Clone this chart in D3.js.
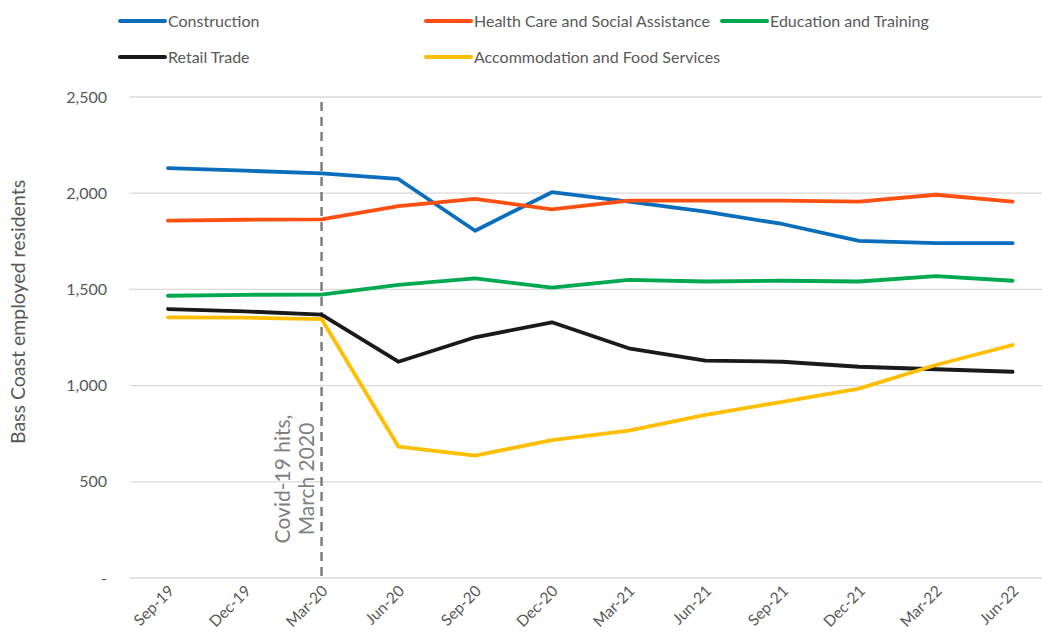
<!DOCTYPE html>
<html>
<head>
<meta charset="utf-8">
<script src="https://cdn.jsdelivr.net/npm/d3@7"></script>
<style>
  html, body { margin: 0; padding: 0; background: #fff; overflow: hidden; }
  svg { display: block; font-family: Lato, "Open Sans", sans-serif; }
</style>
</head>
<body>
<svg id="chart" width="1042" height="644"></svg>
<script>
// Quarterly periods
const quarters = ["Sep-19","Dec-19","Mar-20","Jun-20","Sep-20","Dec-20","Mar-21","Jun-21","Sep-21","Dec-21","Mar-22","Jun-22"];

// Employed residents by industry
const construction  = [2130, 2117, 2103, 2074, 1805, 2005, 1956, 1904, 1840, 1752, 1740, 1740];
const healthCare    = [1857, 1862, 1864, 1933, 1970, 1916, 1961, 1961, 1961, 1956, 1992, 1956];
const education     = [1467, 1472, 1473, 1523, 1557, 1509, 1549, 1541, 1545, 1541, 1569, 1545];
const retail        = [1398, 1386, 1369, 1124, 1251, 1329, 1194, 1130, 1124, 1098, 1085, 1072];
const accommodation = [1355, 1353, 1346, 683, 636, 717, 766, 848, 916, 984, 1107, 1211];

const seriesNames  = ["Construction", "Health Care and Social Assistance", "Education and Training", "Retail Trade", "Accommodation and Food Services"];
const seriesColors = ["#0a6ebd", "#ff5011", "#00a84f", "#1a1a1a", "#ffbf00"];
const seriesValues = [construction, healthCare, education, retail, accommodation];

const yTicks = [0, 500, 1000, 1500, 2000, 2500];
const eventQuarter = "Mar-20";
const eventLabel = ["Covid-19 hits,", "March 2020"];
const yTitle = "Bass Coast employed residents";

const svg = d3.select("#chart");

const x = d3.scaleBand().domain(quarters).range([129.6, 1051]);
const y = d3.scaleLinear().domain([0, 2500]).range([578, 97]);
const xc = q => x(q) + x.bandwidth() / 2;

// Gridlines
svg.append("g")
  .selectAll("line")
  .data(yTicks)
  .join("line")
  .attr("x1", x.range()[0]).attr("x2", x.range()[1])
  .attr("y1", d => y(d)).attr("y2", d => y(d))
  .attr("stroke", "#d9d9d9").attr("stroke-width", 1.3);

// Y axis labels
const fmt = d3.format(",");
svg.append("g")
  .selectAll("text")
  .data(yTicks)
  .join("text")
  .attr("x", 107).attr("y", d => y(d))
  .attr("dy", "0.35em")
  .attr("text-anchor", "end")
  .attr("fill", "#595959")
  .attr("font-size", 16)
  .text(d => d === 0 ? "-" : fmt(d));

// Y axis title
svg.append("text")
  .attr("transform", `translate(25,312) rotate(-90)`)
  .attr("text-anchor", "middle")
  .attr("fill", "#595959")
  .attr("font-size", 19.5)
  .text(yTitle);

// X axis labels, rotated
svg.append("g")
  .selectAll("text")
  .data(quarters)
  .join("text")
  .attr("transform", d => `translate(${xc(d) + 7},${y(0) + 14}) rotate(-45)`)
  .attr("text-anchor", "end")
  .attr("fill", "#595959")
  .attr("font-size", 15.5)
  .text(d => d);

// Event marker
const ex = xc(eventQuarter);
svg.append("line")
  .attr("x1", ex).attr("x2", ex)
  .attr("y1", 102).attr("y2", y(0))
  .attr("stroke", "#7f7f7f")
  .attr("stroke-width", 2.5)
  .attr("stroke-dasharray", "9,6");

svg.append("text")
  .attr("transform", `translate(${ex - 32},479) rotate(-90)`)
  .attr("text-anchor", "middle")
  .attr("fill", "#7f7f7f")
  .attr("font-size", 21)
  .selectAll("tspan")
  .data(eventLabel)
  .join("tspan")
  .attr("x", 0)
  .attr("dy", (d, i) => i === 0 ? 0 : 24)
  .text(d => d);

// Series lines
const line = d3.line()
  .x((d, i) => xc(quarters[i]))
  .y(d => y(d));

svg.append("g")
  .selectAll("path")
  .data(seriesValues)
  .join("path")
  .attr("d", d => line(d))
  .attr("fill", "none")
  .attr("stroke", (d, i) => seriesColors[i])
  .attr("stroke-width", 3.8)
  .attr("stroke-linejoin", "round")
  .attr("stroke-linecap", "round");

// Legend
const legendPos = [[120, 21], [426, 21], [722, 21], [120, 57], [426, 57]];
const legend = svg.append("g")
  .selectAll("g")
  .data(seriesNames)
  .join("g")
  .attr("transform", (d, i) => `translate(${legendPos[i][0]},${legendPos[i][1]})`);

legend.append("line")
  .attr("x1", 0).attr("x2", 45)
  .attr("stroke", (d, i) => seriesColors[i])
  .attr("stroke-width", 4)
  .attr("stroke-linecap", "round");

legend.append("text")
  .attr("x", 48)
  .attr("dy", "0.35em")
  .attr("fill", "#595959")
  .attr("font-size", 16)
  .text(d => d);
</script>
</body>
</html>
